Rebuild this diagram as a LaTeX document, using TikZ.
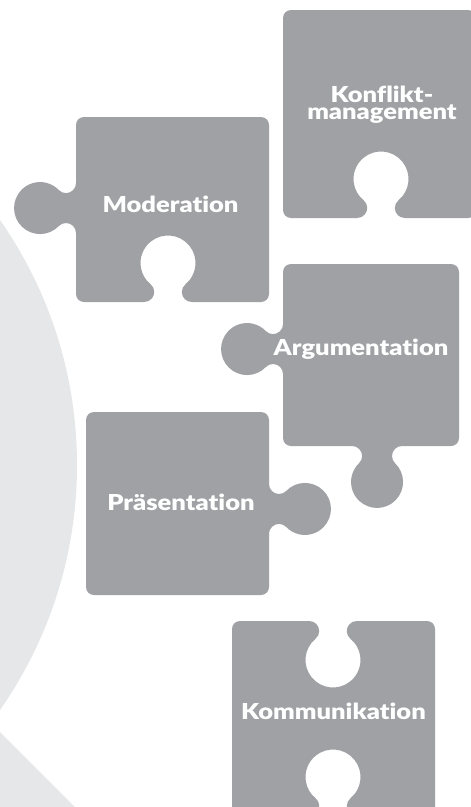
\documentclass[tikz,border=0pt]{standalone}
\usepackage{fontspec}
\setmainfont{Lato}
\newfontfamily\lblfont{Lato}[UprightFont={* Black},FakeStretch=1.16,Ligatures={NoCommon,NoRequired,NoContextual}]
\definecolor{puzzle}{RGB}{160,161,164}
\definecolor{backg}{RGB}{230,231,232}
\begin{document}
\begin{tikzpicture}[x=0.75pt,y=0.75pt,yscale=-1,xscale=1,
  piece/.style={fill=puzzle},
  lbl/.style={text=white,inner sep=0pt,font=\lblfont\fontsize{16.5}{12.8}\selectfont}]
\useasboundingbox (0,0) rectangle (471,807);
\clip (0,0) rectangle (471,807);

%Shape: Circle (background)
\fill[backg] (-351,465) circle[radius=428];
%Shape: Triangle (background)
\fill[backg] (0,732) -- (75,807) -- (0,807) -- cycle;

%Shape: Puzzle Konfliktmanagement
\fill[piece] (291,10) -- (468,10) arc[start angle=-90,end angle=0,radius=8] -- (476,210) arc[start angle=0,end angle=90,radius=8] -- (404.8,218)
  arc[start angle=90,end angle=230.63,radius=10]
  arc[start angle=410.63,end angle=129.37,radius=27.5]
  arc[start angle=309.37,end angle=450,radius=10]
  -- (291,218) arc[start angle=90,end angle=180,radius=8] -- (283,18) arc[start angle=180,end angle=270,radius=8] -- cycle;

%Shape: Puzzle Moderation
\fill[piece] (84,117) -- (261,117) arc[start angle=-90,end angle=0,radius=8] -- (269,294) arc[start angle=0,end angle=90,radius=8] -- (191.8,302)
  arc[start angle=90,end angle=230.63,radius=10]
  arc[start angle=410.63,end angle=129.37,radius=27.5]
  arc[start angle=309.37,end angle=450,radius=10]
  -- (84,302) arc[start angle=90,end angle=180,radius=8] -- (76,233)
  arc[start angle=360,end angle=223.88,radius=10]
  arc[start angle=43.88,end angle=316.12,radius=26]
  arc[start angle=136.12,end angle=0,radius=10]
  -- (76,125) arc[start angle=180,end angle=270,radius=8] -- cycle;

%Shape: Puzzle Argumentation
\fill[piece] (291,264) -- (451,264) arc[start angle=-90,end angle=0,radius=8] -- (459,438) arc[start angle=0,end angle=90,radius=8] -- (402,446)
  arc[start angle=270,end angle=133.88,radius=10]
  arc[start angle=-46.12,end angle=226.12,radius=26]
  arc[start angle=46.12,end angle=-90,radius=10]
  -- (291,446) arc[start angle=90,end angle=180,radius=8] -- (283,374)
  arc[start angle=360,end angle=223.88,radius=10]
  arc[start angle=43.88,end angle=316.12,radius=26]
  arc[start angle=136.12,end angle=0,radius=10]
  -- (283,272) arc[start angle=180,end angle=270,radius=8] -- cycle;

%Shape: Puzzle Praesentation
\fill[piece] (94,412) -- (261,412) arc[start angle=-90,end angle=0,radius=8] -- (269,484)
  arc[start angle=180,end angle=43.88,radius=10]
  arc[start angle=-136.12,end angle=136.12,radius=26]
  arc[start angle=-43.88,end angle=-180,radius=10]
  -- (269,587) arc[start angle=0,end angle=90,radius=8] -- (94,595) arc[start angle=90,end angle=180,radius=8] -- (86,420) arc[start angle=180,end angle=270,radius=8] -- cycle;

%Shape: Puzzle Kommunikation
\fill[piece] (240,621) -- (309.2,621)
  arc[start angle=-90,end angle=50.63,radius=10]
  arc[start angle=230.63,end angle=-50.63,radius=27.5]
  arc[start angle=129.37,end angle=270,radius=10]
  -- (427,621) arc[start angle=-90,end angle=0,radius=8] -- (435,808) arc[start angle=0,end angle=90,radius=8] -- (356.8,816)
  arc[start angle=90,end angle=230.63,radius=10]
  arc[start angle=410.63,end angle=129.37,radius=27.5]
  arc[start angle=309.37,end angle=450,radius=10]
  -- (240,816) arc[start angle=90,end angle=180,radius=8] -- (232,629) arc[start angle=180,end angle=270,radius=8] -- cycle;

% Text Node
\draw (382,105) node [lbl,align=center] (konf) {Konflikt-\\management};
% Text Node
\draw (170.5,212.3) node [lbl,anchor=base] (moder) {Moderation};
% Text Node
\draw (361,355) node [lbl,anchor=base] (argu) {Argumentation};
% Text Node
\draw (181,510.7) node [lbl,anchor=base] (praes) {Präsentation};
% Text Node
\draw (333.5,719) node [lbl,anchor=base] (kommu) {Kommunikation};

\end{tikzpicture}
\end{document}
